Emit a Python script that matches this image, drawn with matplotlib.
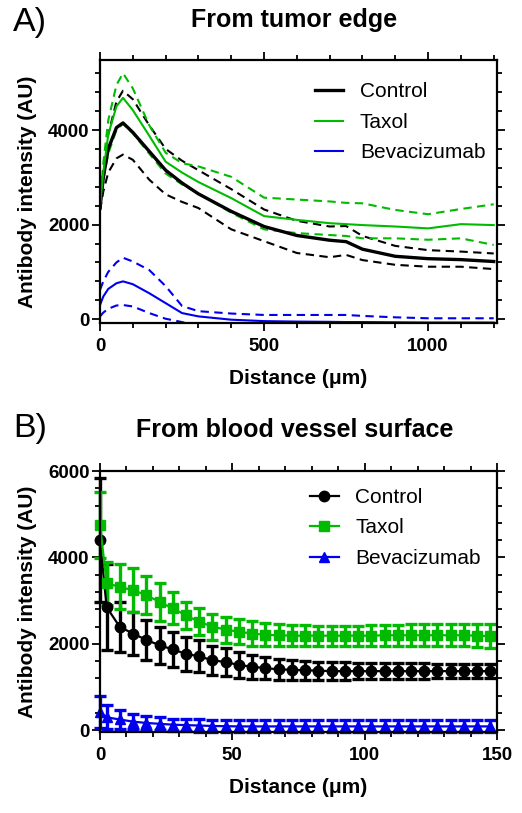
import numpy as np
import matplotlib.pyplot as plt
from matplotlib.lines import Line2D
from matplotlib.ticker import MultipleLocator

plt.rcParams['font.family'] = ['Liberation Sans', 'DejaVu Sans']

# Panel A: profiles from tumor edge (mean and +/- dashed bounds)
dist_edge = [0, 10, 25, 50, 70, 100, 150, 200, 250, 300, 400, 500, 600, 700, 750, 800, 900, 1000, 1100, 1200]
ctrl_mean = [2350, 3000, 3600, 4050, 4150, 3950, 3550, 3150, 2880, 2650, 2280, 1960, 1770, 1670, 1640, 1480, 1330, 1280, 1260, 1220]
ctrl_hi = [2400, 3100, 3900, 4600, 4830, 4650, 4100, 3600, 3350, 3150, 2750, 2320, 2080, 1960, 1970, 1760, 1550, 1460, 1430, 1390]
ctrl_lo = [2300, 2700, 3100, 3400, 3480, 3370, 2950, 2640, 2480, 2350, 1900, 1650, 1400, 1310, 1360, 1250, 1150, 1110, 1110, 1060]
taxol_mean = [2400, 3100, 3900, 4500, 4680, 4420, 3880, 3330, 3100, 2900, 2560, 2180, 2100, 2030, 2010, 1990, 1960, 1920, 2010, 1990]
taxol_hi = [2400, 3300, 4200, 4950, 5200, 4880, 4100, 3520, 3300, 3230, 3010, 2570, 2530, 2490, 2460, 2450, 2310, 2220, 2330, 2430]
taxol_lo = [2400, 2950, 3500, 4000, 4130, 3930, 3500, 3080, 2850, 2660, 2250, 1900, 1820, 1780, 1760, 1710, 1710, 1680, 1710, 1570]
bev_mean = [300, 480, 640, 760, 800, 740, 550, 340, 130, 60, -10, -40, -50, -55, -60, -60, -65, -70, -70, -70]
bev_hi = [620, 800, 1000, 1200, 1300, 1220, 1040, 700, 280, 170, 120, 90, 90, 90, 90, 70, 40, 20, 20, 20]
bev_lo = [60, 140, 220, 290, 300, 270, 130, 10, -60, -150, -200, -200, -200, -200, -200, -200, -200, -200, -200, -200]

# Panel B: profiles from blood vessel surface (mean +/- SD)
dist_vessel = [0, 2.5, 7.5, 12.5, 17.5, 22.5, 27.5, 32.5, 37.5, 42.5, 47.5, 52.5, 57.5, 62.5, 67.5, 72.5,
               77.5, 82.5, 87.5, 92.5, 97.5, 102.5, 107.5, 112.5, 117.5, 122.5, 127.5, 132.5, 137.5, 142.5, 147.5]
ctrl_v = [4400, 2850, 2390, 2240, 2090, 1970, 1870, 1770, 1710, 1620, 1580, 1510, 1470, 1440, 1410, 1400,
          1390, 1380, 1370, 1370, 1370, 1370, 1370, 1370, 1370, 1370, 1370, 1370, 1370, 1370, 1370]
ctrl_v_sd = [1430, 1000, 580, 500, 460, 430, 410, 390, 370, 340, 320, 300, 280, 260, 240, 230,
             220, 210, 200, 200, 190, 190, 180, 180, 180, 180, 170, 170, 170, 170, 170]
taxol_v = [4750, 3400, 3320, 3240, 3130, 2970, 2820, 2660, 2510, 2400, 2330, 2280, 2240, 2210, 2200, 2190,
           2190, 2190, 2190, 2190, 2190, 2190, 2200, 2200, 2200, 2200, 2200, 2200, 2200, 2190, 2180]
taxol_v_sd = [770, 500, 520, 510, 440, 430, 370, 320, 310, 300, 300, 290, 280, 270, 260, 250,
              240, 230, 230, 230, 230, 240, 240, 240, 250, 250, 260, 260, 260, 270, 280]
bev_v = [420, 300, 250, 200, 170, 150, 130, 120, 110, 100, 95, 90, 90, 90, 90, 90,
         90, 90, 90, 90, 90, 90, 90, 90, 90, 90, 90, 90, 90, 90, 90]
bev_v_sd = [370, 280, 210, 180, 160, 150, 140, 140, 140, 140, 140, 140, 140, 140, 140, 140,
            140, 140, 140, 140, 140, 140, 140, 140, 140, 140, 140, 140, 140, 140, 140]

labels = ['Control', 'Taxol', 'Bevacizumab']
black, green, blue = '#000000', '#00BB00', '#0000EE'

fig = plt.figure(figsize=(5.22, 8.13), dpi=100)
axA = fig.add_axes([0.1916, 0.6027, 0.7605, 0.3235])
axB = fig.add_axes([0.1916, 0.0996, 0.7605, 0.3210])


def style_axes(ax, xmajor, xminor, xlab_y):
    for s in ax.spines.values():
        s.set_linewidth(1.6)
    ax.xaxis.set_major_locator(MultipleLocator(xmajor))
    ax.xaxis.set_minor_locator(MultipleLocator(xminor))
    ax.yaxis.set_major_locator(MultipleLocator(2000))
    ax.yaxis.set_minor_locator(MultipleLocator(400))
    ax.tick_params(which='both', direction='out', top=True, right=True, width=1.3)
    ax.tick_params(which='major', length=6)
    ax.tick_params(which='minor', length=3.6)
    ax.tick_params(axis='x', which='major', pad=5, labelsize=13.5)
    ax.tick_params(axis='y', which='major', pad=1.5, labelsize=13.5)
    for t in ax.get_xticklabels() + ax.get_yticklabels():
        t.set_fontweight('bold')
    ax.set_xlabel('Distance (\u03bcm)', fontsize=15, fontweight='bold')
    ax.set_ylabel('Antibody intensity (AU)', fontsize=15, fontweight='bold')
    ax.xaxis.set_label_coords(0.5, xlab_y)
    ax.yaxis.set_label_coords(-0.158, 0.5)


# ---- Panel A
dash = (0, (4, 2.6))
axA.plot(dist_edge, ctrl_hi, color=black, lw=1.5, ls=dash)
axA.plot(dist_edge, ctrl_lo, color=black, lw=1.5, ls=dash)
axA.plot(dist_edge, taxol_hi, color=green, lw=1.5, ls=dash)
axA.plot(dist_edge, taxol_lo, color=green, lw=1.5, ls=dash)
axA.plot(dist_edge, bev_hi, color=blue, lw=1.5, ls=dash)
axA.plot(dist_edge, bev_lo, color=blue, lw=1.5, ls=dash)
axA.plot(dist_edge, ctrl_mean, color=black, lw=2.4, label=labels[0])
axA.plot(dist_edge, taxol_mean, color=green, lw=1.5, label=labels[1])
axA.plot(dist_edge, bev_mean, color=blue, lw=1.5, label=labels[2])
axA.set_xlim(0, 1210)
axA.set_ylim(-80, 5480)
style_axes(axA, 500, 100, -0.175)
axA.legend(loc='upper left', bbox_to_anchor=(0.5416, 0.915), frameon=False, fontsize=15,
           borderpad=0, borderaxespad=0, handlelength=1.35, handletextpad=0.8, labelspacing=0.55)
axA.text(0.49, 1.152, 'From tumor edge', transform=axA.transAxes, ha='center', va='center',
         fontsize=18, fontweight='bold')

# ---- Panel B
for y, sd, c, m in [(ctrl_v, ctrl_v_sd, black, 'o'),
                    (taxol_v, taxol_v_sd, green, 's'),
                    (bev_v, bev_v_sd, blue, '^')]:
    axB.errorbar(dist_vessel, y, yerr=sd, color=c, marker=m, ms=7.5, lw=1.6,
                 elinewidth=2.4, capsize=4.5, capthick=2.4, clip_on=False)
axB.set_xlim(0, 150)
axB.set_ylim(-40, 6000)
style_axes(axB, 50, 10, -0.178)
handles = [Line2D([], [], color=black, marker='o', ms=7.5, lw=1.6),
           Line2D([], [], color=green, marker='s', ms=7.5, lw=1.6),
           Line2D([], [], color=blue, marker='^', ms=7.5, lw=1.6)]
axB.legend(handles, labels, loc='upper left', bbox_to_anchor=(0.53, 0.935), frameon=False, fontsize=15,
           borderpad=0, borderaxespad=0, handlelength=1.35, handletextpad=0.8, labelspacing=0.55)
axB.text(0.49, 1.157, 'From blood vessel surface', transform=axB.transAxes, ha='center', va='center',
         fontsize=18, fontweight='bold')

fig.text(13 / 522, 1 - 22.5 / 813, 'A)', fontsize=24.5, ha='left', va='center')
fig.text(13 / 522, 1 - 429 / 813, 'B)', fontsize=24.5, ha='left', va='center')

fig.savefig('out.png', dpi=100)
